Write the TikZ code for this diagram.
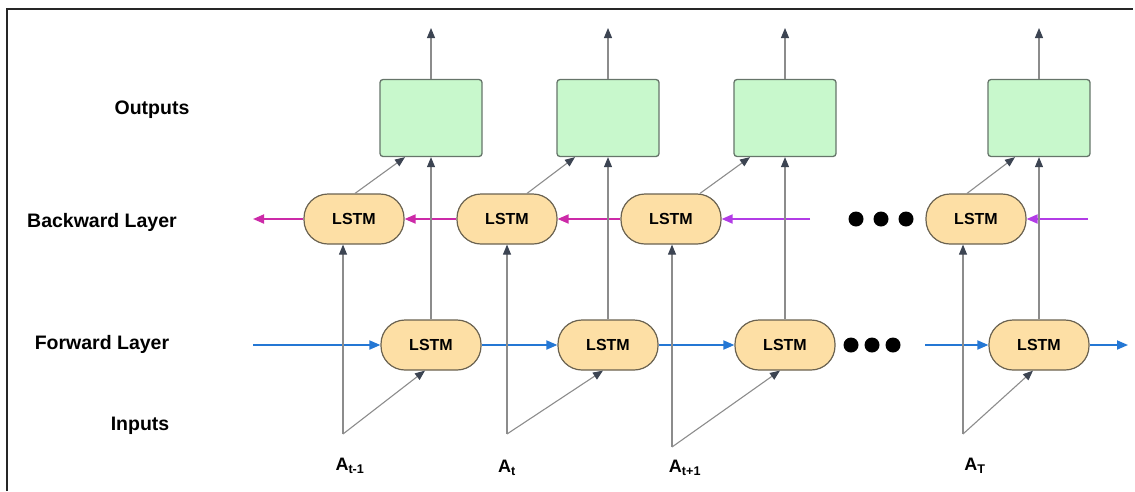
\documentclass[tikz,border=0pt]{standalone}
\usepackage{fontspec}
\setmainfont{Liberation Sans}
\usetikzlibrary{arrows.meta}
\definecolor{cellfill}{HTML}{FDDFA5}
\definecolor{celldraw}{HTML}{6A6250}
\definecolor{outfill}{HTML}{C8F8CC}
\definecolor{outdraw}{HTML}{66756A}
\definecolor{wire}{HTML}{8C8C8C}
\definecolor{tipdark}{HTML}{3C4452}
\definecolor{fwdblue}{HTML}{2477D4}
\definecolor{bwdpink}{HTML}{CC2AA8}
\definecolor{bwdviolet}{HTML}{B23CE6}
\tikzset{
  cell/.style={draw=celldraw, line width=1.2pt, fill=cellfill, minimum width=100pt,
    minimum height=50pt, rounded corners=24pt, font=\bfseries\fontsize{16}{18}\selectfont},
  outbox/.style={draw=outdraw, line width=1.3pt, fill=outfill, minimum width=102pt,
    minimum height=77pt, rounded corners=3pt},
  rowlabel/.style={font=\bfseries\fontsize{19.5}{22}\selectfont},
  inlabel/.style={font=\bfseries\fontsize{18}{20}\selectfont},
  graywire/.style={draw=wire, line width=1.1pt, -{Triangle[length=10pt,width=8pt,color=tipdark]}},
  fwd/.style={draw=fwdblue, line width=1.8pt, -{Triangle[length=11pt,width=9pt]}},
  bwd/.style={draw=bwdpink, line width=1.8pt, -{Triangle[length=11pt,width=9pt]}},
  bwdv/.style={draw=bwdviolet, line width=1.8pt, -{Triangle[length=11pt,width=9pt]}},
  dot/.style={circle, fill=black, inner sep=0pt, minimum size=15pt},
}
\begin{document}
\begin{tikzpicture}[x=1pt,y=-1pt]
\useasboundingbox (0,0) rectangle (1135,491);
% frame
\draw[line width=1.4pt, black!85] (7,491) -- (7,9) -- (1133,9);

% row labels
\node[rowlabel] (lout) at (152,110) {Outputs};
\node[rowlabel] (lbwd) at (102,222) {Backward Layer};
\node[rowlabel] (lfwd) at (102,344) {Forward Layer};
\node[rowlabel] (lin)  at (140,426) {Inputs};

% output boxes
\node[outbox] (o1) at (431,118) {};
\node[outbox] (o2) at (608,118) {};
\node[outbox] (o3) at (785,118) {};
\node[outbox] (o4) at (1039,118) {};

% backward cells
\node[cell] (b1) at (354,219) {LSTM};
\node[cell] (b2) at (507,219) {LSTM};
\node[cell] (b3) at (671,219) {LSTM};
\node[cell] (b4) at (976,219) {LSTM};

% forward cells
\node[cell] (f1) at (431,345) {LSTM};
\node[cell] (f2) at (608,345) {LSTM};
\node[cell] (f3) at (785,345) {LSTM};
\node[cell] (f4) at (1039,345) {LSTM};

% ellipsis dots
\node[dot] (bd1) at (856,219) {};
\node[dot] (bd2) at (881,219) {};
\node[dot] (bd3) at (906,219) {};
\node[dot] (fd1) at (851,345) {};
\node[dot] (fd2) at (872,345) {};
\node[dot] (fd3) at (893,345) {};

% input points and labels
\coordinate (a1) at (343,434);
\coordinate (a2) at (507,434);
\coordinate (a3) at (672,447);
\coordinate (a4) at (963,434);
\node[inlabel] (la1) at (350,466) {A\textsubscript{t-1}};
\node[inlabel] (la2) at (507,468) {A\textsubscript{t}};
\node[inlabel] (la3) at (685,468) {A\textsubscript{t+1}};
\node[inlabel] (la4) at (975,466) {A\textsubscript{T}};

% free ends
\coordinate (top1) at (431,28);
\coordinate (top2) at (608,28);
\coordinate (top3) at (785,28);
\coordinate (top4) at (1039,28);
\coordinate (bwdout) at (253,219);
\coordinate (bwdin3) at (810,219);
\coordinate (bwdin4) at (1088,219);
\coordinate (fwdin1) at (253,345);
\coordinate (fwdin4) at (925,345);
\coordinate (fwdout) at (1128,345);

% backward flow (right to left)
\draw[bwd] (b1.west) -- (bwdout);
\draw[bwd] (b2.west) -- (b1.east);
\draw[bwd] (b3.west) -- (b2.east);
\draw[bwdv] (bwdin3) -- (b3.east);
\draw[bwdv] (bwdin4) -- (b4.east);

% forward flow (left to right)
\draw[fwd] (fwdin1) -- (f1.west);
\draw[fwd] (f1.east) -- (f2.west);
\draw[fwd] (f2.east) -- (f3.west);
\draw[fwd] (fwdin4) -- (f4.west);
\draw[fwd] (f4.east) -- (fwdout);

% outputs upward
\draw[graywire] (o1.north) -- (top1);
\draw[graywire] (o2.north) -- (top2);
\draw[graywire] (o3.north) -- (top3);
\draw[graywire] (o4.north) -- (top4);

% forward cells into outputs
\draw[graywire] (f1.north) -- (o1.south);
\draw[graywire] (f2.north) -- (o2.south);
\draw[graywire] (f3.north) -- (o3.south);
\draw[graywire] (f4.north) -- (o4.south);

% backward cells into outputs
\draw[graywire] ([xshift=1pt]b1.north) -- ([xshift=-26pt]o1.south);
\draw[graywire] ([xshift=20pt]b2.north) -- ([xshift=-33pt]o2.south);
\draw[graywire] ([xshift=29pt]b3.north) -- ([xshift=-35pt]o3.south);
\draw[graywire] ([xshift=-9pt]b4.north) -- ([xshift=-24pt]o4.south);

% inputs into both layers
\draw[graywire] (a1) -- (a1 |- b1.south);
\draw[graywire] (a2) -- (a2 |- b2.south);
\draw[graywire] (a3) -- (a3 |- b3.south);
\draw[graywire] (a4) -- (a4 |- b4.south);
\draw[graywire] (a1) -- ([xshift=-6pt]f1.south);
\draw[graywire] (a2) -- ([xshift=-5pt]f2.south);
\draw[graywire] (a3) -- ([xshift=-5pt]f3.south);
\draw[graywire] (a4) -- ([xshift=-6pt]f4.south);
\end{tikzpicture}
\end{document}
